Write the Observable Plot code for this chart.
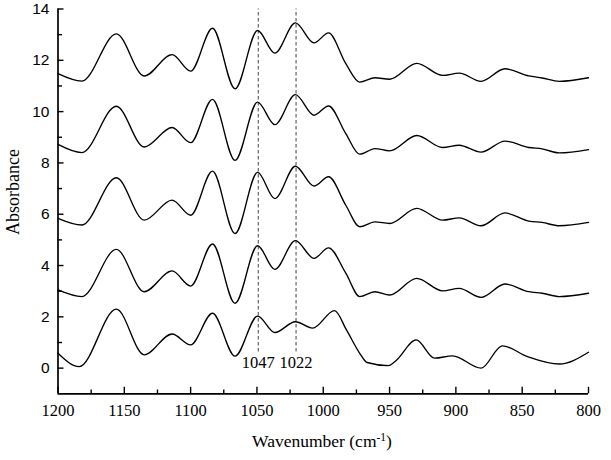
<!DOCTYPE html>
<html>
<head>
<meta charset="utf-8">
<script src="https://cdn.jsdelivr.net/npm/d3@7"></script>
<script src="https://cdn.jsdelivr.net/npm/@observablehq/plot@0.6"></script>
<style>
  html, body { margin: 0; padding: 0; background: #fff; }
  #chart { width: 611px; height: 460px; }
</style>
</head>
<body>
<div id="chart"></div>
<script>
// ---- data ----
const wavenumbers = [1200, 1182, 1156, 1135, 1114, 1100, 1083.5, 1066.5, 1049.5, 1036.5, 1021, 1007, 996, 983, 972.5, 961, 950, 929.5, 910, 897.5, 881, 863, 845, 835, 822, 800];
const spectrumE = [11.48, 11.19, 13.03, 11.39, 12.22, 11.58, 13.25, 10.89, 13.16, 12.28, 13.46, 12.68, 13.07, 11.87, 11.15, 11.32, 11.26, 11.88, 11.41, 11.50, 11.18, 11.67, 11.39, 11.31, 11.18, 11.32];
const spectrumD = [8.72, 8.40, 10.21, 8.62, 9.38, 8.79, 10.48, 8.10, 10.37, 9.49, 10.66, 9.86, 10.22, 9.14, 8.34, 8.56, 8.47, 9.07, 8.60, 8.69, 8.42, 8.85, 8.60, 8.55, 8.39, 8.52];
const spectrumC = [5.84, 5.58, 7.42, 5.77, 6.55, 5.96, 7.68, 5.25, 7.63, 6.61, 7.87, 7.10, 7.46, 6.35, 5.51, 5.70, 5.64, 6.23, 5.77, 5.86, 5.55, 6.05, 5.73, 5.68, 5.55, 5.68];
const spectrumB = [3.05, 2.79, 4.63, 2.98, 3.79, 3.20, 4.84, 2.53, 4.77, 3.85, 4.97, 4.28, 4.69, 3.70, 2.79, 2.98, 2.85, 3.50, 3.01, 3.11, 2.76, 3.28, 2.98, 2.92, 2.79, 2.92];
const wavenumbersA = [1200, 1184, 1156, 1135, 1114, 1100, 1083.5, 1066.5, 1049.5, 1036.5, 1021, 1008, 991.5, 982.5, 972.5, 967, 951, 945, 930, 916, 902.5, 881, 865, 846, 822, 800];
const spectrumA = [0.58, 0.06, 2.30, 0.52, 1.33, 0.91, 2.14, 0.47, 2.03, 1.39, 1.81, 1.56, 2.24, 1.49, 0.58, 0.22, 0.10, 0.30, 1.10, 0.39, 0.48, 0.00, 0.87, 0.45, 0.16, 0.62];

const markerLines = [1049, 1020.5];
const markerLabels = ["1047", "1022"];

const xDomain = [1200, 800];
const yDomain = [-1, 14];
const xMajor = [1200, 1150, 1100, 1050, 1000, 950, 900, 850, 800];
const xMinor = [1175, 1125, 1075, 1025, 975, 925, 875, 825];
const yMajor = [0, 2, 4, 6, 8, 10, 12, 14];
const yMinor = [1, 3, 5, 7, 9, 11, 13];

// ---- build table ----
const rows = [];
[["E", wavenumbers, spectrumE], ["D", wavenumbers, spectrumD], ["C", wavenumbers, spectrumC],
 ["B", wavenumbers, spectrumB], ["A", wavenumbersA, spectrumA]].forEach(([s, xs, ys]) => {
  xs.forEach((w, i) => rows.push({series: s, wavenumber: w, absorbance: ys[i]}));
});
const labelRows = markerLines.map((x, i) => ({x, label: markerLabels[i]}));

const W = 611, H = 460;
const mL = 57.5, mR = 23, mT = 8.5, mB = 66.7;
const FW = W - mL - mR, FH = H - mT - mB;
const SERIF = "'Liberation Serif', 'Times New Roman', Times, serif";
const SANS = "'Liberation Sans', Arial, Helvetica, sans-serif";

const chart = Plot.plot({
  width: W, height: H,
  marginLeft: mL, marginRight: mR, marginTop: mT, marginBottom: mB,
  style: {background: "#fff", fontFamily: SERIF, fontSize: "16px", color: "#000", overflow: "visible"},
  x: {domain: xDomain, label: null},
  y: {domain: yDomain, label: null},
  marks: [
    Plot.ruleX(markerLines, {y1: 0.63, y2: 14, stroke: "#444", strokeWidth: 1, strokeDasharray: "3.5,2.5"}),
    Plot.line(rows, {x: "wavenumber", y: "absorbance", z: "series", curve: "monotone-x", stroke: "#000", strokeWidth: 1.35}),
    Plot.text(labelRows, {x: "x", y: 0, text: "label", lineAnchor: "bottom", fontSize: 16.5, fontFamily: SERIF, fill: "#000"}),
    // axis lines
    Plot.ruleY([yDomain[0]], {stroke: "#000", strokeWidth: 1.7}),
    Plot.ruleX([xDomain[0]], {stroke: "#000", strokeWidth: 1.7}),
    // inward ticks
    Plot.ruleX(xMajor, {insetTop: FH - 6.5, stroke: "#000", strokeWidth: 1.4}),
    Plot.ruleX(xMinor, {insetTop: FH - 3.8, stroke: "#000", strokeWidth: 1.4}),
    Plot.ruleY(yMajor, {insetRight: FW - 6, stroke: "#000", strokeWidth: 1.4}),
    Plot.ruleY(yMinor, {insetRight: FW - 4.5, stroke: "#000", strokeWidth: 1.4}),
    // tick labels
    Plot.axisX(xMajor, {anchor: "bottom", tickSize: 0, tickPadding: 10.5, fontSize: 16.5, fontFamily: SERIF, tickFormat: d => String(d), label: null}),
    Plot.axisY(yMajor, {anchor: "left", tickSize: 0, tickPadding: 8.5, fontSize: 15.5, fontFamily: SANS, tickFormat: d => String(d), label: null})
  ]
});

const svg = d3.select(chart);
// y axis title
svg.append("text")
  .attr("transform", "translate(19,192) rotate(-90)")
  .attr("text-anchor", "middle")
  .attr("font-family", SERIF)
  .attr("font-size", 18)
  .attr("fill", "#000")
  .text("Absorbance");
// x axis title with superscript
const xt = svg.append("text")
  .attr("x", 322).attr("y", 447)
  .attr("text-anchor", "middle")
  .attr("font-family", SERIF)
  .attr("font-size", 17.5)
  .attr("fill", "#000");
xt.append("tspan").text("Wavenumber (cm");
xt.append("tspan").attr("dy", -6).attr("font-size", 11.5).text("-1");
xt.append("tspan").attr("dy", 6).text(")");

document.getElementById("chart").appendChild(chart);
</script>
</body>
</html>
